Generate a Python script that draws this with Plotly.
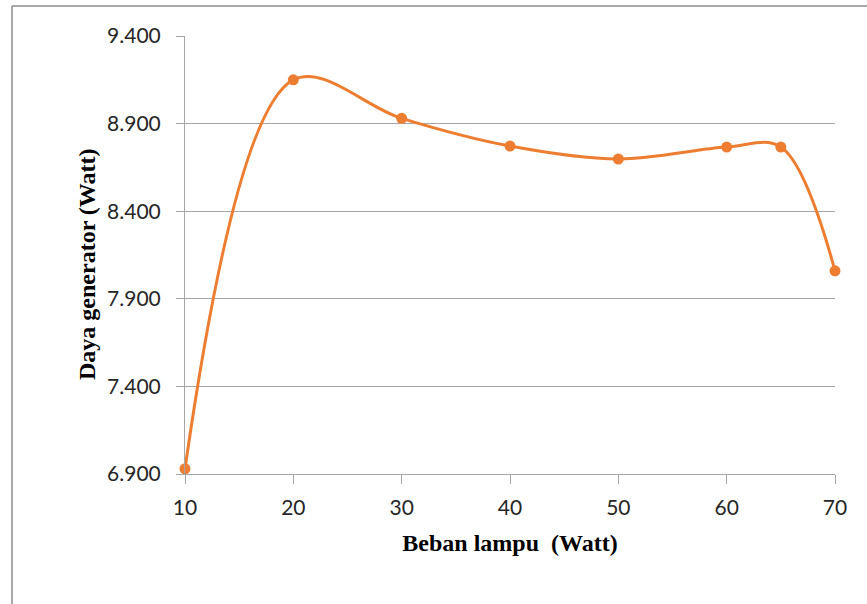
import plotly.graph_objects as go

beban = [10, 20, 30, 40, 50, 60, 65, 70]
daya = [6930, 9150, 8930, 8772, 8698, 8766, 8766, 8060]
y_ticks = [6900, 7400, 7900, 8400, 8900, 9400]
y_tick_labels = ["6.900", "7.400", "7.900", "8.400", "8.900", "9.400"]
x_ticks = [10, 20, 30, 40, 50, 60, 70]

fig = go.Figure()
fig.add_trace(go.Scatter(
    x=beban, y=daya, mode="lines+markers",
    line=dict(color="#ED7D31", width=3, shape="spline", smoothing=1.0),
    marker=dict(color="#ED7D31", size=11),
    cliponaxis=False,
    showlegend=False,
))

fig.update_layout(
    width=867, height=604,
    margin=dict(l=185, r=32, t=36, b=130),
    paper_bgcolor="white", plot_bgcolor="white",
    font=dict(family="Lato", size=21, color="#262626"),
    xaxis=dict(
        range=[10, 70], tickvals=x_ticks, showgrid=False,
        showline=True, linecolor="#a6a6a6", linewidth=1,
        ticks="outside", ticklen=9, tickcolor="#a6a6a6",
        ticklabelstandoff=6,
        zeroline=False,
        title=dict(text="<b>Beban lampu  (Watt)</b>", standoff=15,
                   font=dict(family="Liberation Serif", size=24, color="#000000")),
    ),
    yaxis=dict(
        range=[6900, 9400], tickvals=y_ticks, ticktext=y_tick_labels,
        showgrid=True, gridcolor="#a6a6a6", gridwidth=1,
        showline=True, linecolor="#a6a6a6", linewidth=1,
        ticks="outside", ticklen=8, tickcolor="#a6a6a6",
        ticklabelstandoff=11,
        zeroline=False,
    ),
    annotations=[
        dict(text="<b>Daya generator (Watt)</b>", textangle=-90,
             xref="paper", yref="paper",
             x=(87 - 185) / 650, y=(474 - 264) / 438,
             xanchor="center", yanchor="middle", showarrow=False,
             font=dict(family="Liberation Serif", size=24, color="#000000")),
    ],
    shapes=[
        dict(type="line", xref="paper", yref="paper",
             x0=(12 - 185) / 650, x1=(12 - 185) / 650,
             y0=(474 - 6) / 438, y1=(474 - 604) / 438,
             line=dict(color="#8c8c8c", width=1.5)),
        dict(type="line", xref="paper", yref="paper",
             x0=(12 - 185) / 650, x1=(867 - 185) / 650,
             y0=(474 - 6) / 438, y1=(474 - 6) / 438,
             line=dict(color="#8c8c8c", width=1.5)),
    ],
)

fig.write_html("out.html")
